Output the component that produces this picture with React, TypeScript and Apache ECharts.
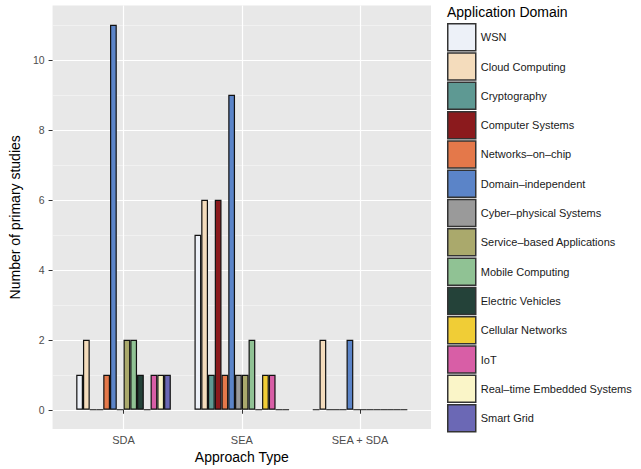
import React, { useEffect, useRef } from "react";
import * as echarts from "echarts";

const categories = ["SDA", "SEA", "SEA + SDA"];
const domains = [
  "WSN",
  "Cloud Computing",
  "Cryptography",
  "Computer Systems",
  "Networks\u2013on\u2013chip",
  "Domain\u2013independent",
  "Cyber\u2013physical Systems",
  "Service\u2013based Applications",
  "Mobile Computing",
  "Electric Vehicles",
  "Cellular Networks",
  "IoT",
  "Real\u2013time Embedded Systems",
  "Smart Grid",
];
const domainColors = [
  "#edf1f8",
  "#f4dcbc",
  "#5e9993",
  "#8b1a1d",
  "#e4784a",
  "#5b84c8",
  "#9a9a9a",
  "#aaa96c",
  "#90c294",
  "#244239",
  "#f0cd36",
  "#d85ea6",
  "#faf5c8",
  "#6b68b5",
];
// values per approach type, in the order of `domains`
const sdaValues = [1, 2, 0, 0, 1, 11, 0, 2, 2, 1, 0, 1, 1, 1];
const seaValues = [5, 6, 1, 6, 1, 9, 1, 1, 2, 0, 1, 1, 0, 0];
const seaSdaValues = [0, 2, 0, 0, 0, 2, 0, 0, 0, 0, 0, 0, 0, 0];
const yMajorTicks = [0, 2, 4, 6, 8, 10];
const yMinorTicks = [1, 3, 5, 7, 9, 11];

const FONT = "'Liberation Sans', Arial, Helvetica, sans-serif";

export default function App() {
  const ref = useRef<HTMLDivElement>(null);
  useEffect(() => {
    if (!ref.current) return;
    const chart = echarts.init(ref.current, undefined, { renderer: "svg" });
    const byApproach = [sdaValues, seaValues, seaSdaValues];
    const xPositions = categories.map((_, j) => j + 1);
    const series = domains.map((d, i) => ({
      type: "bar",
      name: d,
      xAxisIndex: 0,
      yAxisIndex: 0,
      barGap: "0%",
      barCategoryGap: "20%",
      itemStyle: { color: domainColors[i], borderColor: "#111111", borderWidth: 1.2 },
      emphasis: { disabled: true },
      data: categories.map((_, j) => [xPositions[j], byApproach[j][i]]),
    }));
    const option: any = {
      animation: false,
      textStyle: { fontFamily: FONT },
      title: {
        text: "Application Domain",
        left: 442,
        top: 0,
        textStyle: { fontFamily: FONT, fontSize: 14, fontWeight: "normal", color: "#000" },
      },
      legend: {
        orient: "vertical",
        left: 447,
        top: 23,
        padding: 0,
        itemWidth: 28,
        itemHeight: 27,
        itemGap: 0.8,
        icon: "rect",
        selectedMode: false,
        itemStyle: { borderColor: "#333333", borderWidth: 1.5 },
        textStyle: { fontFamily: FONT, fontSize: 11, color: "#1a1a1a", padding: [0, 0, 0, 0] },
        data: domains,
      },
      grid: {
        left: 45,
        top: 5.6,
        width: 386,
        height: 424.7,
        show: true,
        backgroundColor: "#e8e8e8",
        borderWidth: 0,
      },
      xAxis: {
        type: "value",
        min: 0.4,
        max: 3.6,
        name: "Approach Type",
        nameLocation: "middle",
        nameGap: 21,
        nameTextStyle: { fontFamily: FONT, fontSize: 14, color: "#000" },
        axisLine: { show: false },
        axisTick: { show: true, length: 4, lineStyle: { color: "#333" }, customValues: xPositions },
        axisLabel: {
          customValues: xPositions,
          margin: 5,
          fontSize: 11,
          color: "#4d4d4d",
          fontFamily: FONT,
          formatter: (v: number) => categories[Math.round(v) - 1] ?? "",
        },
        splitLine: { show: true, lineStyle: { color: "#ffffff", width: 1.2 } },
      },
      yAxis: [
        {
          type: "value",
          min: -0.55,
          max: 11.55,
          name: "Number of primary studies",
          nameLocation: "middle",
          nameGap: 21,
          nameTextStyle: { fontFamily: FONT, fontSize: 14, color: "#000" },
          axisLine: { show: false },
          axisTick: { show: true, length: 4, lineStyle: { color: "#333" }, customValues: yMajorTicks },
          axisLabel: { customValues: yMajorTicks, margin: 8, fontSize: 10.5, color: "#4d4d4d", fontFamily: FONT },
          splitLine: { show: true, lineStyle: { color: "#ffffff", width: 1.2 } },
        },
        {
          type: "value",
          min: -0.55,
          max: 11.55,
          position: "left",
          offset: 0,
          axisLine: { show: false },
          axisTick: { show: false, customValues: yMinorTicks },
          axisLabel: { show: false, customValues: yMinorTicks },
          splitLine: { show: true, lineStyle: { color: "#f6f6f6", width: 0.6 } },
        },
      ],
      series,
    };
    chart.setOption(option);
    return () => chart.dispose();
  }, []);
  return (
    <div
      ref={ref}
      style={{ position: "fixed", left: 0, top: 0, width: 641, height: 469, background: "#ffffff" }}
    />
  );
}
